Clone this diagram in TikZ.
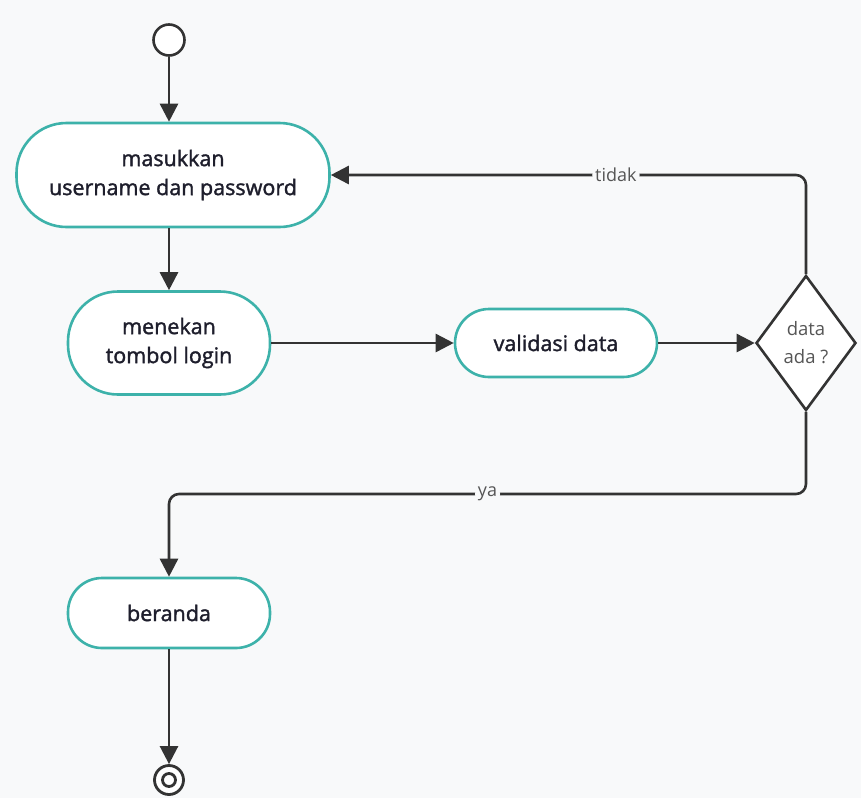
\documentclass[tikz,border=0pt]{standalone}
\usepackage{fontspec}
\setmainfont{Open Sans}
\usetikzlibrary{shapes,arrows,arrows.meta,positioning,calc}

\definecolor{bgcol}{HTML}{F8F9FA}
\definecolor{tealcol}{HTML}{3DB2AA}
\definecolor{linecol}{HTML}{333333}
\definecolor{txtcol}{HTML}{1E1E2C}
\definecolor{lblcol}{HTML}{555555}

\begin{document}
\begin{tikzpicture}[x=1pt, y=-1pt,
    act/.style={rectangle, draw=tealcol, line width=2.6pt, fill=white, rounded corners=34pt, align=center, text=txtcol, font=\fontsize{21.5}{29}\selectfont\addfontfeature{FakeBold=1.6}, inner sep=0pt},
    flow/.style={-{Triangle[length=18pt, width=18pt]}, line width=2.6pt, draw=linecol},
    lbl/.style={fill=bgcol, text=lblcol, font=\fontsize{18}{20}\selectfont, inner sep=3pt}]
    \useasboundingbox[fill=bgcol] (0,0) rectangle (861,798);

    \node[circle, draw=linecol, line width=2.6pt, fill=white, minimum size=31pt, inner sep=0pt] (mulai) at (169,40) {};
    \node[act, minimum width=313pt, minimum height=104pt, rounded corners=50pt] (masuk) at (173,175) {masukkan\\username dan password};
    \node[act, minimum width=202pt, minimum height=103pt, rounded corners=50pt] (tekan) at (169,343) {menekan\\tombol login};
    \node[act, minimum width=202pt, minimum height=68pt] (validasi) at (556,343) {validasi data};
    \node[diamond, draw=linecol, line width=2.6pt, fill=white, minimum width=100pt, minimum height=135pt, inner sep=0pt, aspect=0.74, align=center, text=lblcol, font=\fontsize{18.5}{28}\selectfont] (cek) at (806,343) {data\\ada ?};
    \node[act, minimum width=202pt, minimum height=70pt] (beranda) at (169,613) {beranda};
    \node[circle, draw=linecol, line width=2.8pt, fill=white, minimum size=29pt, inner sep=0pt] (selesai) at (169,780) {};
    \node[circle, draw=linecol, line width=2.8pt, fill=white, minimum size=13pt, inner sep=0pt] (selesaiIn) at (selesai) {};

    \draw[flow] (mulai) -- (mulai |- masuk.north);
    \draw[flow] (masuk.south -| mulai) -- (tekan.north -| mulai);
    \draw[flow] (tekan) -- (validasi);
    \draw[flow] (validasi) -- (cek);
    \draw[flow, rounded corners=10pt] (cek.north) |- node[lbl, pos=0.7] {tidak} (masuk.east);
    \coordinate (belok) at (806,494);
    \draw[flow, rounded corners=10pt] (cek.south) -- (belok) -| node[lbl, pos=0.25] {ya} (beranda.north -| mulai);
    \draw[flow] (beranda) -- (selesai);
\end{tikzpicture}
\end{document}
